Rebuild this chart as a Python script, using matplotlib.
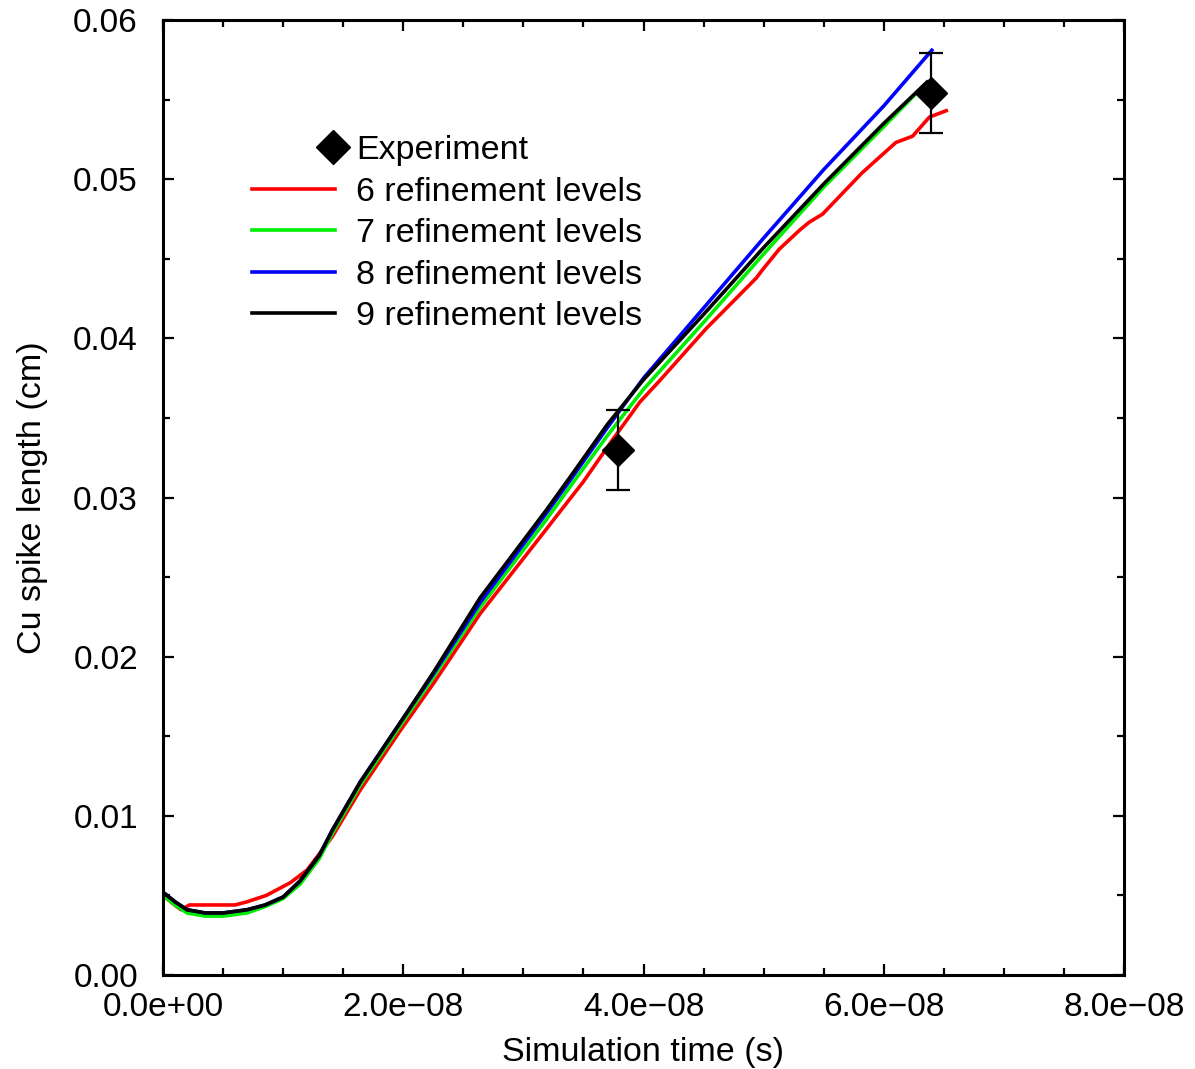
import numpy as np
import matplotlib
matplotlib.use("Agg")
import matplotlib.pyplot as plt
from matplotlib.legend_handler import HandlerLine2DCompound
from matplotlib.lines import Line2D
from matplotlib.ticker import FuncFormatter, MultipleLocator

plt.rcParams["font.family"] = ["Liberation Sans", "DejaVu Sans"]

# ── data (time in units of 1e-8 s, length in cm) ──────────────────
t_red = np.array([0, 0.08, 0.15, 0.22, 0.4, 0.6, 0.7, 0.86, 1.06, 1.2, 1.41, 1.64,
                  1.97, 2.25, 2.64, 3.19, 3.5, 3.74, 3.97, 4.13, 4.52, 4.77, 4.94,
                  4.99, 5.13, 5.30, 5.38, 5.49, 5.82, 6.10, 6.24, 6.38, 6.52])
v_red = np.array([.0050, .0045, .0041, .0044, .0044, .0044, .0046, .0050, .0058,
                  .0066, .0087, .0116, .0153, .0183, .0227, .0280, .0310, .0336,
                  .0360, .0373, .0406, .0425, .0438, .0443, .0456, .0468, .0473,
                  .0478, .0504, .0523, .0527, .0539, .0543])

t_green = np.array([0, 0.1, 0.2, 0.35, 0.5, 0.7, 0.85, 1.0, 1.14, 1.3, 1.41, 1.64,
                    1.97, 2.25, 2.64, 3.19, 3.4, 3.7, 4.0, 4.5, 5.0, 5.5, 6.0, 6.31])
v_green = np.array([.0050, .0044, .0039, .0037, .0037, .0039, .0043, .0048, .0057,
                    .0073, .0089, .0119, .0156, .0187, .0231, .0286, .0308, .0339,
                    .0368, .0410, .0453, .0495, .0533, .0557])

t_blue = np.array([0, 0.1, 0.2, 0.35, 0.5, 0.7, 0.85, 1.0, 1.14, 1.3, 1.41, 1.64,
                   1.97, 2.25, 2.64, 3.19, 3.4, 3.7, 4.0, 4.5, 5.0, 5.5, 6.0, 6.40])
v_blue = np.array([.0052, .0046, .0041, .0039, .0039, .0041, .0044, .0049, .0059,
                   .0075, .0091, .0121, .0158, .0189, .0234, .0290, .0312, .0344,
                   .0375, .0419, .0463, .0506, .0546, .0581])

t_black = np.array([0, 0.1, 0.2, 0.35, 0.5, 0.7, 0.85, 1.0, 1.14, 1.3, 1.41, 1.64,
                    1.97, 2.25, 2.64, 3.19, 3.4, 3.7, 4.0, 4.5, 5.0, 5.5, 6.0, 6.36])
v_black = np.array([.0052, .0046, .0041, .0039, .0039, .0041, .0044, .0049, .0059,
                    .0075, .0091, .0121, .0158, .0190, .0237, .0292, .0314, .0346,
                    .0374, .0415, .0457, .0497, .0535, .0561])

t_exp = np.array([3.79, 6.39])
v_exp = np.array([0.0330, 0.0554])
err_lo = np.array([0.0305, 0.0529])
err_hi = np.array([0.0355, 0.0579])

series_labels = ["6 refinement levels", "7 refinement levels",
                 "8 refinement levels", "9 refinement levels"]
series_colors = ["#ff0000", "#00ee00", "#0000ff", "#000000"]


class HandlerMarkerRight(HandlerLine2DCompound):
    """Put the single legend marker at the right end of the handle."""

    def get_xdata(self, legend, xdescent, ydescent, width, height, fontsize):
        xdata = np.array([-xdescent, width - xdescent])
        return xdata, np.array([width - xdescent - 0.03 * width])


fig = plt.figure(figsize=(11.95, 10.69), dpi=100)
ax = fig.add_axes([163 / 1195, 1 - 975 / 1069, (1124 - 163) / 1195, (975 - 20) / 1069])

series = [(t_red, v_red), (t_green, v_green), (t_blue, v_blue), (t_black, v_black)]
handles = []
for (t, v), lab, col in zip(series, series_labels, series_colors):
    h, = ax.plot(t * 1e-8, v, color=col, lw=2.6, label=lab)
    handles.append(h)

ax.errorbar(t_exp * 1e-8, v_exp, yerr=[v_exp - err_lo, err_hi - v_exp],
            fmt="none", ecolor="black", elinewidth=1.6, capsize=8.5, capthick=1.6,
            zorder=5)
ax.plot(t_exp * 1e-8, v_exp, "D", color="black", ms=16, zorder=6)

exp_handle = Line2D([], [], ls="none", marker="D", color="black", ms=17)

ax.set_xlim(0, 8e-8)
ax.set_ylim(0, 0.06)
ax.xaxis.set_major_locator(MultipleLocator(2e-8))
ax.xaxis.set_minor_locator(MultipleLocator(0.5e-8))
ax.yaxis.set_major_locator(MultipleLocator(0.01))
ax.yaxis.set_minor_locator(MultipleLocator(0.005))
ax.xaxis.set_major_formatter(FuncFormatter(lambda x, p: f"{x:.1e}".replace("-", "\u2212")))
ax.yaxis.set_major_formatter(FuncFormatter(lambda y, p: f"{y:.2f}"))

ax.tick_params(which="both", direction="in", top=True, right=True, width=1.6,
               labelsize=24)
ax.tick_params(which="major", length=8, pad=12)
ax.tick_params(which="minor", length=5)
ax.tick_params(axis="y", which="major", pad=18)
for s in ax.spines.values():
    s.set_linewidth(2.2)

ax.set_xlabel("Simulation time (s)", fontsize=24.5, labelpad=10)
ax.set_ylabel("Cu spike length (cm)", fontsize=24.5, labelpad=18)

ax.legend([exp_handle] + handles, ["Experiment"] + series_labels,
          handler_map={exp_handle: HandlerMarkerRight()},
          loc="upper left", bbox_to_anchor=(0.0926, 0.8796), frameon=False,
          fontsize=24.5, handlelength=2.45, handletextpad=0.6, labelspacing=0.31,
          borderpad=0, borderaxespad=0)

fig.savefig("out.png", dpi=100)
